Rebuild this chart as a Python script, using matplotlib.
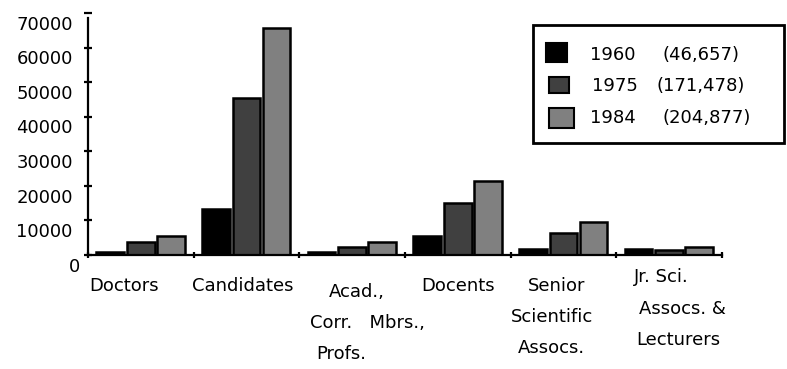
import matplotlib
matplotlib.use("Agg")
import matplotlib.pyplot as plt
from matplotlib.patches import Rectangle
from matplotlib.transforms import ScaledTranslation

# ---- data -------------------------------------------------------------
categories = ["Doctors", "Candidates", "Acad., Corr. Mbrs., Profs.",
              "Docents", "Senior Scientific Assocs.",
              "Jr. Sci. Assocs. & Lecturers"]
years = ["1960", "1975", "1984"]
totals = [46657, 171478, 204877]
values_1960 = [800, 13300, 900, 5600, 1700, 1700]
values_1975 = [3800, 45500, 2400, 15000, 6300, 1400]
values_1984 = [5500, 65600, 3900, 21500, 9500, 2400]
yticks = [0, 10000, 20000, 30000, 40000, 50000, 60000, 70000]

# ---- style ------------------------------------------------------------
W, H = 787, 369
FONT = "DejaVu Sans"
FS = 13
colors = ["#000000", "#404040", "#808080"]
offsets = [-0.29, 0.0, 0.285]
bar_w = 0.262

plt.rcParams["font.family"] = FONT
fig = plt.figure(figsize=(W / 100, H / 100), dpi=100)


def fx(px):
    return px / W


def fy(py):
    return 1 - py / H


# axes: x from 88 px to 722 px, y=0 at 255 px, y=70000 at 13 px
ax = fig.add_axes([fx(88), fy(255), (722 - 88) / W, (255 - 13) / H])

series = [values_1960, values_1975, values_1984]
xs = list(range(len(categories)))
for vals, off, col in zip(series, offsets, colors):
    ax.bar([x + off for x in xs], vals, width=bar_w, color=col,
           edgecolor="black", linewidth=1.8, zorder=3)

ax.set_xlim(-0.5, len(categories) - 0.5)
ax.set_ylim(0, 70000)

for s in ("top", "right"):
    ax.spines[s].set_visible(False)
for s in ("left", "bottom"):
    ax.spines[s].set_linewidth(1.6)
    ax.spines[s].set_zorder(4)
ax.spines["left"].set_bounds(0, 68600)

ax.set_yticks(yticks)
ax.set_yticklabels([str(v) for v in yticks], fontsize=FS)
ax.tick_params(axis="y", direction="inout", length=6, width=1.6, pad=7.9)
ax.set_xticks([i - 0.5 for i in range(len(categories) + 1)])
ax.set_xticklabels([])
ax.tick_params(axis="x", direction="inout", length=5, width=1.6)

# y labels sit a little below their ticks
for i, lab in enumerate(ax.get_yticklabels()):
    dx = 5 / 72 if yticks[i] == 0 else 0
    lab.set_transform(lab.get_transform() +
                      ScaledTranslation(dx, -7 / 72, fig.dpi_scale_trans))

# ---- category labels (multi-line, staggered) ---------------------------
label_lines = [
    ("Doctors", 124, 291),
    ("Candidates", 243, 291),
    ("Acad.,", 357, 297),
    ("Corr.   Mbrs.,", 367, 328),
    ("Profs.", 341, 359),
    ("Docents", 458, 291),
    ("Senior", 557, 291),
    ("Scientific", 552, 322),
    ("Assocs.", 551, 353),
    ("Jr. Sci.", 661, 282),
    ("Assocs. &", 682, 314),
    ("Lecturers", 678, 345),
]
for txt, x, y in label_lines:
    fig.text(fx(x), fy(y), txt, ha="center", va="baseline", fontsize=FS)

# ---- legend box -------------------------------------------------------
fig.patches.append(Rectangle((fx(533), fy(143)), (784 - 533) / W,
                             (143 - 25) / H, transform=fig.transFigure,
                             facecolor="white", edgecolor="black",
                             linewidth=2.0))
swatches = [(546, 43, 21, 19), (549, 77, 20, 16), (549, 108, 25, 20)]
year_x = [590, 592, 590]
tot_x = [662, 657, 662]
row_y = [55, 86, 118]
for i in range(3):
    sx, sy, sw, sh = swatches[i]
    fig.patches.append(Rectangle((fx(sx), fy(sy + sh)), sw / W, sh / H,
                                 transform=fig.transFigure,
                                 facecolor=colors[i], edgecolor="black",
                                 linewidth=1.5))
    fig.text(fx(year_x[i]), fy(row_y[i]), years[i], ha="left",
             va="center", fontsize=FS)
    fig.text(fx(tot_x[i]), fy(row_y[i]), f"({totals[i]:,})", ha="left",
             va="center", fontsize=FS)

fig.savefig("out.png", dpi=100, facecolor="white")
